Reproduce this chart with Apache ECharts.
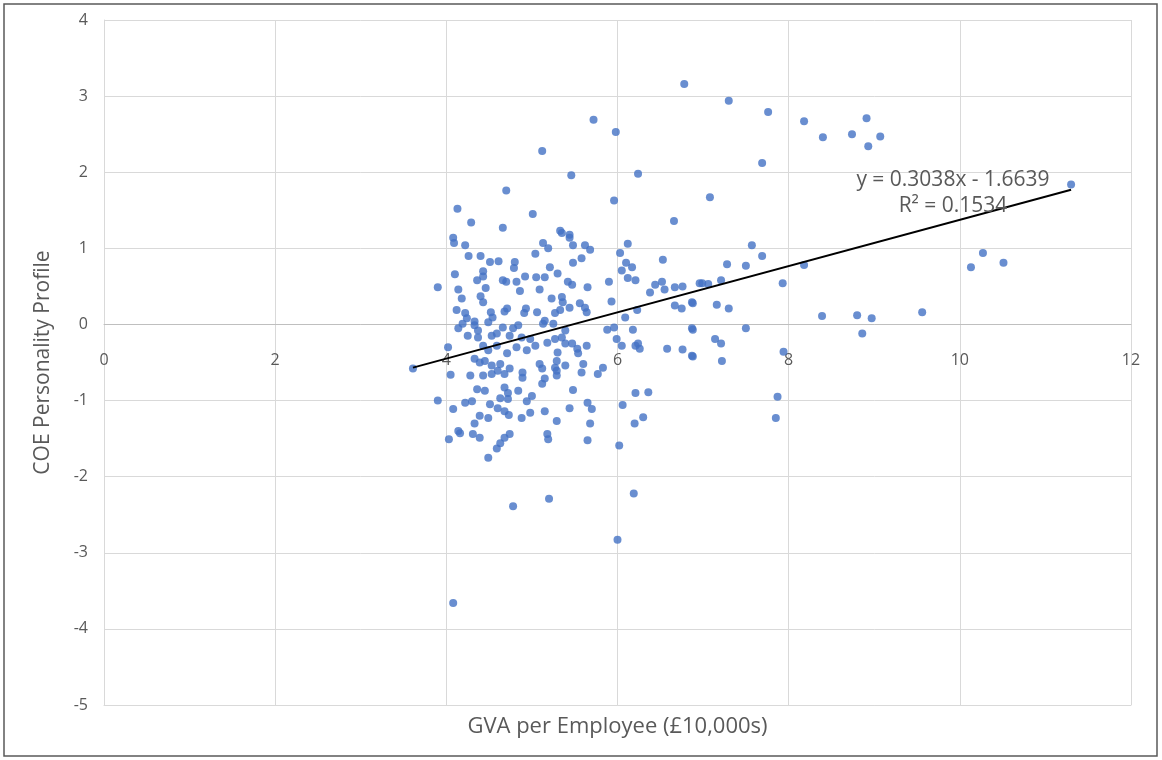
<!DOCTYPE html>
<html>
<head>
<meta charset="utf-8">
<script src="https://cdn.jsdelivr.net/npm/echarts@6/dist/echarts.min.js"></script>
<style>
  html, body { margin: 0; padding: 0; background: #fff; }
  #chart { width: 1162px; height: 760px; }
</style>
</head>
<body>
<div id="chart"></div>
<script>
// GVA per employee (£10,000s) and COE personality profile
const gvaX = [
  6.78, 7.30, 7.76, 8.18, 8.40, 8.74, 8.91, 8.93, 9.07, 5.72, 5.98, 5.12, 5.46, 6.24, 7.69,
  4.70, 7.08, 5.96, 11.30, 4.13, 5.01, 6.66, 4.29, 4.66, 5.33, 5.44, 5.35, 5.44, 5.48, 5.62,
  5.68, 6.12, 6.03, 6.10, 6.17, 6.05, 6.53, 5.48, 5.58, 5.30, 5.42, 5.47, 5.65, 5.90, 6.12,
  6.21, 6.44, 6.52, 6.55, 6.67, 6.76, 6.99, 6.38, 5.93, 6.67, 6.75, 6.87, 5.35, 5.36, 5.33,
  5.44, 5.27, 5.56, 5.62, 5.64, 6.09, 6.23, 6.87, 5.88, 5.96, 6.18, 5.39, 5.35, 5.39, 5.99,
  6.05, 6.21, 6.24, 6.26, 5.64, 5.47, 5.53, 5.54, 6.58, 6.76, 6.87, 5.30, 5.29, 5.39, 5.60,
  5.83, 5.29, 5.58, 5.77, 5.48, 6.21, 6.36, 5.44, 5.65, 5.70, 6.06, 5.29, 5.68, 6.20, 6.30,
  5.65, 6.02, 6.19, 4.78, 5.20, 6.00, 4.08,
  10.27, 10.13, 10.51, 9.56, 8.97, 8.80, 8.86, 8.39, 7.57, 7.69, 7.28, 7.50, 8.18, 6.96, 7.06,
  7.21, 7.93, 6.88, 7.16, 7.30, 6.88, 7.50, 7.14, 7.21, 6.88, 7.22, 7.94, 7.87, 7.85,
  3.61, 4.02, 4.05, 3.90, 4.08, 4.14, 4.03, 4.14, 3.90, 4.08, 4.09, 4.22, 5.13, 5.19, 5.04,
  4.26, 4.40, 4.51, 4.61, 4.80, 4.79, 5.21, 4.43, 4.43, 4.36, 4.10, 4.66, 4.70, 4.92, 5.05,
  5.15, 4.82, 4.46, 4.86, 5.09, 4.14, 4.18, 4.40, 4.43, 5.23, 4.71, 4.68, 4.93, 4.91, 5.06,
  4.12, 4.22, 4.24, 4.52, 4.54, 4.33, 5.15,
  4.19, 4.33, 4.37, 4.49, 4.66, 4.78, 4.84, 5.13, 5.25, 4.25, 4.37, 4.53, 4.59, 4.74, 4.88,
  4.98, 5.18, 5.27, 4.43, 4.49, 4.59, 4.71, 4.82, 4.94, 5.04, 4.33, 4.39, 4.45, 4.53, 4.63,
  4.60, 4.68, 4.53, 4.43, 4.28, 4.74, 4.89, 4.89, 5.09, 5.12, 5.27, 5.15, 5.12, 5.29, 4.36,
  4.45, 4.68, 4.72, 4.84, 4.63, 4.72, 5.00, 4.94, 4.22, 4.30, 4.51, 4.60, 4.68, 4.73, 4.39,
  4.49, 4.33, 4.88, 4.98, 5.15, 4.16, 4.31, 4.39, 4.74, 4.68, 4.63, 4.59, 5.18, 5.19, 4.49
]
const coeY = [
  3.16, 2.94, 2.79, 2.67, 2.46, 2.50, 2.71, 2.34, 2.47, 2.69, 2.53, 2.28, 1.96, 1.98, 2.12,
  1.76, 1.67, 1.63, 1.84, 1.52, 1.45, 1.36, 1.34, 1.27, 1.23, 1.18, 1.20, 1.14, 1.04, 1.04,
  0.98, 1.06, 0.94, 0.81, 0.75, 0.71, 0.85, 0.81, 0.87, 0.67, 0.56, 0.52, 0.49, 0.56, 0.61,
  0.58, 0.52, 0.56, 0.46, 0.49, 0.50, 0.54, 0.42, 0.30, 0.25, 0.21, 0.29, 0.36, 0.29, 0.19,
  0.22, 0.15, 0.28, 0.22, 0.16, 0.09, 0.19, -0.05, -0.07, -0.04, -0.07, -0.08, -0.17, -0.25, -0.19,
  -0.28, -0.28, -0.25, -0.32, -0.28, -0.25, -0.32, -0.38, -0.32, -0.33, -0.41, -0.37, -0.48, -0.54, -0.52,
  -0.57, -0.61, -0.63, -0.65, -0.86, -0.90, -0.89, -1.10, -1.03, -1.11, -1.06, -1.27, -1.30, -1.30, -1.22,
  -1.52, -1.59, -2.22, -2.39, -2.29, -2.83, -3.66,
  0.94, 0.75, 0.81, 0.16, 0.08, 0.12, -0.12, 0.11, 1.04, 0.90, 0.79, 0.77, 0.78, 0.54, 0.53,
  0.58, 0.54, 0.28, 0.26, 0.21, -0.07, -0.05, -0.19, -0.25, -0.42, -0.48, -0.36, -0.95, -1.23,
  -0.58, -0.30, -0.66, -1.00, -1.11, -1.40, -1.51, -0.05, 0.49, 1.14, 1.07, 1.04, 1.07, 1.00, 0.93,
  0.90, 0.90, 0.82, 0.83, 0.82, 0.74, 0.75, 0.70, 0.63, 0.58, 0.66, 0.58, 0.56, 0.63, 0.62,
  0.62, 0.56, 0.48, 0.44, 0.46, 0.46, 0.34, 0.37, 0.29, 0.34, 0.21, 0.17, 0.21, 0.15, 0.16,
  0.19, 0.15, 0.08, 0.16, 0.09, 0.04, 0.05,
  0.01, -0.01, -0.08, 0.03, -0.04, -0.05, -0.01, 0.01, 0.01, -0.15, -0.17, -0.15, -0.12, -0.15, -0.17,
  -0.19, -0.24, -0.19, -0.28, -0.34, -0.28, -0.38, -0.30, -0.34, -0.28, -0.45, -0.50, -0.48, -0.54, -0.52,
  -0.61, -0.65, -0.65, -0.67, -0.67, -0.58, -0.63, -0.70, -0.52, -0.58, -0.57, -0.71, -0.78, -0.67, -0.85,
  -0.87, -0.83, -0.90, -0.87, -0.97, -0.98, -0.94, -1.01, -1.03, -1.01, -1.05, -1.10, -1.14, -1.19, -1.20,
  -1.23, -1.30, -1.23, -1.16, -1.14, -1.43, -1.44, -1.49, -1.44, -1.49, -1.56, -1.63, -1.44, -1.51, -1.75
]

// linear trendline as printed on the chart
const trendSlope = 0.3038
const trendIntercept = -1.6639
const trendLabels = ['y = 0.3038x - 1.6639', 'R\u00B2 = 0.1534']

const xTicks = { min: 0, max: 12, interval: 2 }
const yTicks = { min: -5, max: 4, interval: 1 }

const points = gvaX.map((x, i) => [x, coeY[i]])
const xMin = Math.min(...gvaX)
const xMax = Math.max(...gvaX)
const trendData = [
  [xMin, trendSlope * xMin + trendIntercept],
  [xMax, trendSlope * xMax + trendIntercept]
]

const textColor = '#595959'
const font = '"Open Sans", "Noto Sans", sans-serif'

const chart = echarts.init(document.getElementById('chart'))
chart.setOption({
  animation: false,
  backgroundColor: '#fff',
  grid: {
    left: 104,
    right: 31,
    top: 20,
    bottom: 55,
    outerBoundsMode: 'none',
    containLabel: false
  },
  xAxis: [
    {
      // bottom axis: grid lines and title only
      type: 'value',
      min: xTicks.min,
      max: xTicks.max,
      interval: xTicks.interval,
      position: 'bottom',
      name: 'GVA per Employee (\u00A310,000s)',
      nameLocation: 'middle',
      nameGap: 11,
      nameTextStyle: { color: textColor, fontSize: 22, fontFamily: font },
      axisLine: { onZero: false, lineStyle: { color: '#d9d9d9', width: 1 } },
      axisTick: { show: false },
      axisLabel: { show: false },
      splitLine: { lineStyle: { color: '#d9d9d9', width: 1 } }
    },
    {
      // axis line crossing at y = 0 with the tick labels (offset set below)
      type: 'value',
      min: xTicks.min,
      max: xTicks.max,
      interval: xTicks.interval,
      position: 'bottom',
      offset: 0,
      axisLine: { onZero: false, lineStyle: { color: '#bfbfbf', width: 1 } },
      axisTick: { show: false },
      axisLabel: { color: textColor, fontSize: 16, fontFamily: font, margin: 28 },
      splitLine: { show: false }
    }
  ],
  yAxis: {
    type: 'value',
    min: yTicks.min,
    max: yTicks.max,
    interval: yTicks.interval,
    name: 'COE Personality Profile',
    nameLocation: 'middle',
    nameGap: 50,
    nameTextStyle: { color: textColor, fontSize: 21, fontFamily: font },
    axisLine: { show: true, onZero: false, lineStyle: { color: '#d9d9d9', width: 1 } },
    axisTick: { show: false },
    axisLabel: { color: textColor, fontSize: 16, fontFamily: font, margin: 16 },
    splitLine: { lineStyle: { color: '#d9d9d9', width: 1 } }
  },
  graphic: [
    {
      type: 'rect',
      x: 4,
      y: 4,
      shape: { width: 1153, height: 752 },
      style: { fill: 'none', stroke: '#595959', lineWidth: 1.5 },
      silent: true
    },
    {
      type: 'text',
      x: 953,
      y: 167,
      style: {
        text: trendLabels.join('\n'),
        align: 'center',
        fill: textColor,
        fontSize: 21,
        fontFamily: font,
        lineHeight: 26
      },
      z: 10
    }
  ],
  series: [
    {
      name: 'COE',
      type: 'scatter',
      xAxisIndex: 0,
      data: points,
      symbolSize: 8,
      itemStyle: { color: '#4472C4' },
      z: 3
    },
    {
      name: 'Trend',
      type: 'line',
      xAxisIndex: 0,
      data: trendData,
      symbol: 'none',
      lineStyle: { color: '#000', width: 2 },
      z: 4
    }
  ]
})

// move the labelled x axis up so that it crosses the y axis at 0
const zeroPx = chart.convertToPixel({ yAxisIndex: 0 }, 0)
const bottomPx = chart.convertToPixel({ yAxisIndex: 0 }, yTicks.min)
chart.setOption({
  xAxis: [{}, { offset: zeroPx - bottomPx }]
})
</script>
</body>
</html>
